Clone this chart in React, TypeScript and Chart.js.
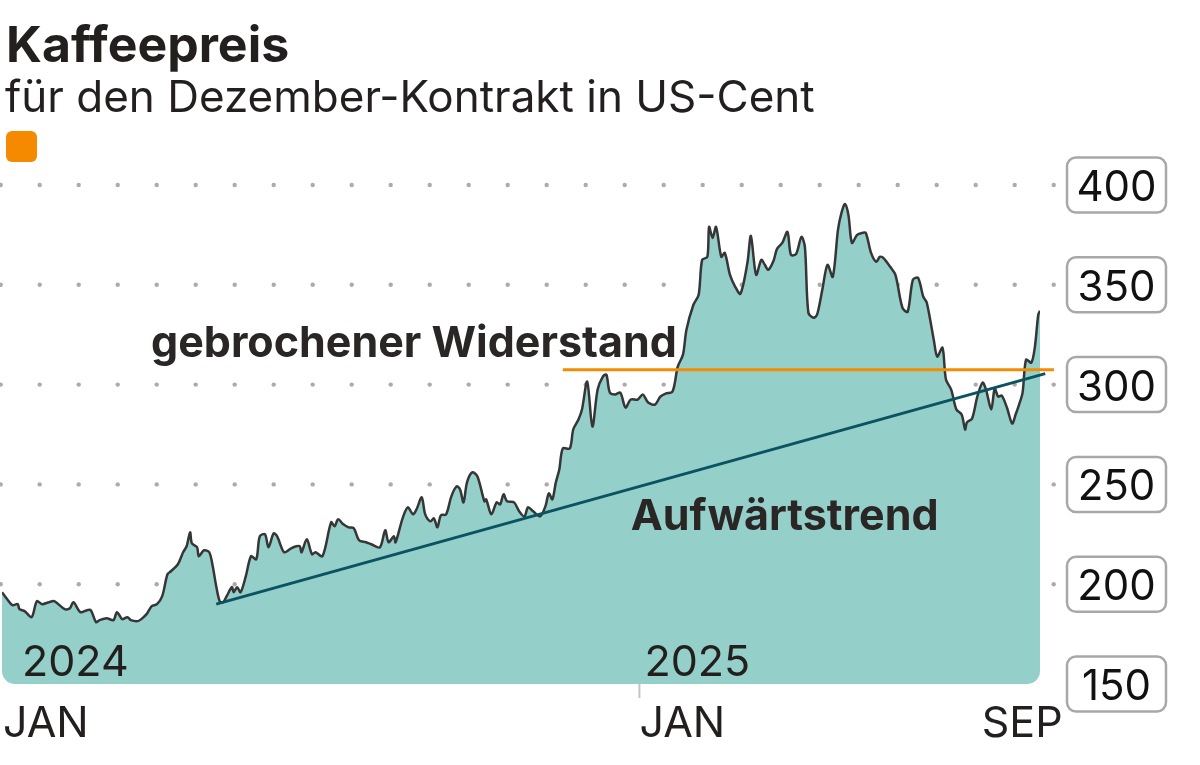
import React, { useEffect, useRef } from "react";
import { Chart, registerables } from "chart.js";

// ---- data ----
const chartTitle = "Kaffeepreis";
const chartSubtitle = "für den Dezember-Kontrakt in US-Cent";

// days since 1 Jan 2024
const days = [
  0, 3, 6, 9, 10, 13, 17, 20, 23, 27, 30, 36, 39, 41, 45, 49, 51, 54, 56, 60,
  64, 66, 69, 72, 74, 78, 80, 83, 86, 89, 92, 95, 97, 101, 104, 106, 108, 109, 112, 113,
  116, 119, 121, 123, 125, 127, 129, 132, 133, 135, 137, 140, 143, 146, 148, 151, 153, 156, 158, 162,
  166, 169, 171, 172, 175, 178, 180, 184, 189, 191, 193, 196, 199, 202, 205, 209, 212, 217, 220, 222,
  225, 226, 230, 233, 236, 238, 241, 243, 246, 248, 250, 252, 255, 258, 261, 263, 265, 267, 270, 273,
  277, 278, 281, 284, 286, 288, 290, 294, 297, 300, 302, 305, 309, 312, 314, 316, 318, 320, 322, 326,
  328, 331, 333, 336, 339, 342, 345, 347, 349, 352, 355, 358, 361, 365, 368, 371, 375, 378, 381, 385,
  388, 391, 393, 397, 400, 402, 405, 406, 408, 410, 413, 415, 418, 421, 424, 428, 430, 433, 436, 438,
  440, 443, 445, 448, 451, 453, 456, 459, 461, 463, 466, 468, 471, 474, 477, 480, 482, 484, 486, 488,
  491, 494, 496, 499, 502, 504, 506, 510, 513, 517, 520, 523, 526, 529, 531, 535, 537, 540, 542, 545,
  548, 551, 553, 554, 557, 560, 563, 565, 568, 570, 572, 574, 577, 580, 582, 584, 586, 588, 591, 593,
  595, 596,
];

const prices = [
  196, 192.5, 189.5, 190, 187.5, 186.5, 183.5, 191.5, 190, 191, 191.5, 187.5, 188, 191, 186, 187, 187, 181, 182, 183,
  182, 186, 182.5, 183.5, 182, 181.5, 182.5, 185, 189, 190, 194, 205, 206.5, 210, 216, 219, 226, 220.5, 218.5, 214,
  217, 216, 209, 199, 191.5, 191, 194, 198.5, 196, 198.5, 196, 204, 214, 212.5, 224, 225, 218.5, 225.5, 224, 216,
  218, 219, 219, 216, 222.5, 215, 216, 214, 231, 229, 232.5, 230, 228.5, 228, 222, 221, 220, 218.5, 227, 221,
  224, 221, 233, 238.5, 235, 237.5, 243.5, 235, 231.5, 233, 228.5, 234.5, 235, 244, 249, 247.5, 241, 251, 256, 254,
  241.5, 242.5, 235, 241, 240, 245, 241.5, 241, 236.5, 234, 238.5, 236.5, 234, 239, 245.5, 242.5, 251, 257.5, 268, 268,
  277.5, 282.5, 287.5, 301.5, 279, 297.5, 304, 305, 296, 295, 296, 288.5, 292.5, 292.5, 295, 291, 290, 294, 295.5, 296.5,
  309, 315, 327.5, 340, 345, 362.5, 364, 379, 373.5, 379, 364, 366, 355, 349, 345.5, 361, 374.5, 355, 362.5, 360,
  357.5, 362, 368, 371, 376.5, 365, 365.5, 374, 369, 336, 333.5, 335, 347.5, 360, 354, 377.5, 386, 390.5, 385, 371,
  375, 376, 376, 366, 361.5, 364, 363.5, 359, 355, 338.5, 336.5, 352.5, 353.5, 344, 341, 322.5, 314, 318.5, 302.5, 297.5,
  287.5, 285, 277.5, 281, 283, 294, 301, 297.5, 287.5, 298, 294, 294.5, 288.5, 280.5, 285, 290, 296, 312.5, 311, 318.5,
  335, 337,
];

const trendDays = [123, 599];
const trendValues = [190, 305.5];
const resistanceDays = [322, 604];
const resistanceValues = [307.5, 307.5];

const yTickValues = [150, 200, 250, 300, 350, 400];
const xTickDays = [0, 366, 609];
const xTickLabels = ["JAN", "JAN", "SEP"];
const yearDays = [0, 366];
const yearLabels = ["2024", "2025"];
const resistanceLabel = "gebrochener Widerstand";
const trendLabel = "Aufwärtstrend";

const FONT = "Inter, 'Noto Sans', sans-serif";

function roundedBottomPath(ctx: CanvasRenderingContext2D, l: number, t: number, r: number, b: number, rad: number) {
  ctx.beginPath();
  ctx.moveTo(l, t);
  ctx.lineTo(r, t);
  ctx.lineTo(r, b - rad);
  ctx.arcTo(r, b, r - rad, b, rad);
  ctx.lineTo(l + rad, b);
  ctx.arcTo(l, b, l, b - rad, rad);
  ctx.closePath();
}

// Registered before the built-in plugins so the clip is active before the Filler draws the area.
const roundClipPlugin = {
  id: "roundClip",
  beforeDatasetDraw(chart: any, args: any) {
    if (args.index !== 0) return;
    const { ctx, chartArea } = chart;
    ctx.save();
    roundedBottomPath(ctx, chartArea.left, 0, chartArea.right, chartArea.bottom, 13);
    ctx.clip();
  },
  afterDatasetDraw(chart: any, args: any) {
    if (args.index !== 0) return;
    chart.ctx.restore();
  },
};

Chart.register(roundClipPlugin as any);
Chart.register(...registerables);

const overlayPlugin = {
  id: "overlay",
  beforeDatasetsDraw(chart: any) {
    const { ctx } = chart;
    const y = chart.scales.y;
    ctx.save();
    ctx.fillStyle = "#ababab";
    for (const v of yTickValues) {
      if (v === 150) continue;
      const py = y.getPixelForValue(v);
      for (let k = 0; k < 28; k++) {
        ctx.beginPath();
        ctx.arc(0.7 + 39 * k, py, 2.2, 0, Math.PI * 2);
        ctx.fill();
      }
    }
    ctx.restore();
  },
  afterDraw(chart: any) {
    const { ctx } = chart;
    const x = chart.scales.x;
    const y = chart.scales.y;
    ctx.save();

    // Title & subtitle
    ctx.fillStyle = "#231f1e";
    ctx.textAlign = "left";
    ctx.textBaseline = "alphabetic";
    ctx.font = `700 50px ${FONT}`;
    ctx.fillText(chartTitle, 6, 62);
    ctx.font = `400 44px ${FONT}`;
    ctx.fillText(chartSubtitle, 5, 112);

    // legend swatch
    ctx.fillStyle = "#f58a00";
    ctx.beginPath();
    ctx.roundRect(6, 131, 31, 31, 6);
    ctx.fill();

    // y labels in boxes
    for (const v of yTickValues) {
      const py = y.getPixelForValue(v);
      ctx.fillStyle = "#ffffff";
      ctx.strokeStyle = "#a8a8a8";
      ctx.lineWidth = 2.5;
      ctx.beginPath();
      ctx.roundRect(1067, py - 27.5, 99, 55, 9);
      ctx.fill();
      ctx.stroke();
      ctx.fillStyle = "#111111";
      ctx.font = `400 42px ${FONT}`;
      ctx.textAlign = "center";
      ctx.fillText(String(v), 1116.5, py + 16);
    }

    // x tick mark at second JAN
    const bottom = y.getPixelForValue(150);
    ctx.strokeStyle = "#c4c4c4";
    ctx.lineWidth = 2;
    const tx = x.getPixelForValue(xTickDays[1]);
    ctx.beginPath();
    ctx.moveTo(tx, bottom);
    ctx.lineTo(tx, bottom + 14);
    ctx.stroke();

    // x labels
    ctx.fillStyle = "#231f1e";
    ctx.font = `400 43px ${FONT}`;
    xTickDays.forEach((d, i) => {
      const px = x.getPixelForValue(d);
      ctx.textAlign = i === xTickDays.length - 1 ? "right" : "left";
      ctx.fillText(xTickLabels[i], i === 0 ? px + 1 : px, 737);
    });

    // year labels
    ctx.textAlign = "left";
    yearDays.forEach((d, i) => {
      const px = x.getPixelForValue(d);
      ctx.fillText(yearLabels[i], i === 0 ? px + 20 : px + 5, 676);
    });

    // annotations
    ctx.font = `700 43px ${FONT}`;
    ctx.fillStyle = "#2a2626";
    ctx.textAlign = "right";
    ctx.fillText(resistanceLabel, x.getPixelForValue(387.5), y.getPixelForValue(314));
    ctx.textAlign = "left";
    ctx.fillText(trendLabel, x.getPixelForValue(361), y.getPixelForValue(227));

    ctx.restore();
  },
};

export default function App() {
  const ref = useRef<HTMLCanvasElement | null>(null);
  useEffect(() => {
    if (!ref.current) return;
    const chart = new Chart(ref.current, {
      type: "line",
      data: {
        datasets: [
          {
            label: "Kaffeepreis",
            data: days.map((d, i) => ({ x: d, y: prices[i] })),
            borderColor: "#363636",
            borderWidth: 2.5,
            backgroundColor: "#94d0c9",
            fill: "start",
            pointRadius: 0,
            tension: 0.3,
            order: 3,
          },
          {
            label: "Widerstand",
            data: resistanceDays.map((d, i) => ({ x: d, y: resistanceValues[i] })),
            borderColor: "#f28c00",
            borderWidth: 3,
            fill: false,
            pointRadius: 0,
            clip: false,
            order: 2,
          },
          {
            label: "Trend",
            data: trendDays.map((d, i) => ({ x: d, y: trendValues[i] })),
            borderColor: "#0b5360",
            borderWidth: 3,
            fill: false,
            pointRadius: 0,
            clip: false,
            order: 1,
          },
        ],
      },
      options: {
        responsive: false,
        animation: false,
        devicePixelRatio: 1,
        layout: { padding: { left: 2, right: 160, top: 185, bottom: 81 } },
        scales: {
          x: { type: "linear", min: 0, max: 596, display: false },
          y: { type: "linear", min: 150, max: 400, display: false },
        },
        plugins: { legend: { display: false }, tooltip: { enabled: false } },
      },
      plugins: [overlayPlugin],
    } as any);
    return () => chart.destroy();
  }, []);
  return (
    <div style={{ position: "absolute", left: 0, top: 0, width: 1200, height: 765, background: "#fff" }}>
      <canvas ref={ref} width={1200} height={765} style={{ width: 1200, height: 765, display: "block" }} />
    </div>
  );
}
